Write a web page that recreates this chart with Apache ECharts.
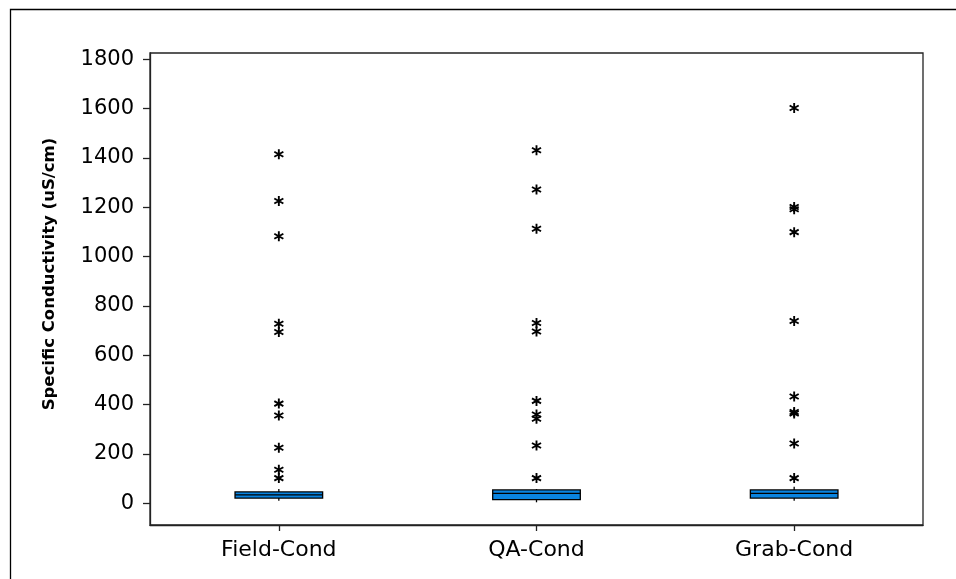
<!DOCTYPE html>
<html>
<head>
<meta charset="utf-8">
<script src="https://cdn.jsdelivr.net/npm/echarts@6/dist/echarts.min.js"></script>
<style>html,body{margin:0;padding:0;background:#fff}#c{width:956px;height:579px}</style>
</head>
<body>
<div id="c"></div>
<script>
// Categories
var categories = ['Field-Cond', 'QA-Cond', 'Grab-Cond'];
// Box stats: [lowWhisker, Q1, median, Q3, highWhisker]
var fieldBox = [10, 21, 34, 46, 58];
var qaBox = [4, 15, 40, 54, 58];
var grabBox = [10, 21, 40, 54, 67];
// Outliers
var fieldOut = [1415, 1225, 1082, 728, 694, 404, 356, 225, 136, 102];
var qaOut = [1431, 1272, 1113, 731, 696, 415, 360, 343, 234, 102];
var grabOut = [1602, 1201, 1192, 1099, 739, 433, 370, 364, 242, 102];
// Tick labels
var yTicks = [0, 200, 400, 600, 800, 1000, 1200, 1400, 1600, 1800];
var yTitle = 'Specific Conductivity (uS/cm)';

var boxes = [fieldBox, qaBox, grabBox];
var outs = [fieldOut, qaOut, grabOut];
var boxData = boxes.map(function (b, i) { return [i].concat(b); });
var outData = [];
outs.forEach(function (arr, i) { arr.forEach(function (v) { outData.push([i, v]); }); });

var star = 'path://M4.1 0L5.9 0L5.9 10L4.1 10Z M0.22 3.28L1.12 1.72L9.78 6.72L8.88 8.28Z M0.22 6.72L8.88 1.72L9.78 3.28L1.12 8.28Z';
var font = 'DejaVu Sans';

var chart = echarts.init(document.getElementById('c'), null, {renderer: 'canvas'});
chart.setOption({
  animation: false,
  backgroundColor: '#fff',
  graphic: [{
    type: 'rect', silent: true,
    shape: {x: 10.5, y: 9.5, width: 2000, height: 2000},
    style: {fill: 'none', stroke: '#000', lineWidth: 1.3}
  }, {
    type: 'text', silent: true,
    x: 50, y: 274, rotation: Math.PI / 2,
    style: {text: yTitle, fontFamily: font, fontWeight: 'bold', fontSize: 16.5, fill: '#000', align: 'center', verticalAlign: 'middle'}
  }],
  grid: {left: 150, top: 53, right: 33, bottom: 54, show: true, borderColor: '#222', borderWidth: 1.3, backgroundColor: 'transparent'},
  xAxis: {
    type: 'category', data: categories, boundaryGap: true,
    axisLine: {show: true, onZero: false, lineStyle: {color: '#222', width: 1.3}},
    axisTick: {show: true, alignWithLabel: true, length: 6, lineStyle: {color: '#222', width: 1.3}},
    axisLabel: {color: '#000', fontFamily: font, fontSize: 22, margin: 14},
    splitLine: {show: false}
  },
  yAxis: {
    type: 'value', min: -88, max: 1825,
    axisLine: {show: true, lineStyle: {color: '#222', width: 1.3}},
    axisTick: {show: true, length: 7, customValues: yTicks, lineStyle: {color: '#222', width: 1.3}},
    axisLabel: {color: '#000', fontFamily: font, fontSize: 21, margin: 16, customValues: yTicks,
      formatter: function (v) { return String(v); }},
    splitLine: {show: false}
  },
  series: [{
    type: 'custom',
    data: boxData,
    encode: {x: 0, y: [1, 2, 3, 4, 5]},
    renderItem: function (params, api) {
      var c = api.value(0);
      var pLow = api.coord([c, api.value(1)]);
      var pQ1 = api.coord([c, api.value(2)]);
      var pMed = api.coord([c, api.value(3)]);
      var pQ3 = api.coord([c, api.value(4)]);
      var pHigh = api.coord([c, api.value(5)]);
      var bw = api.size([1, 0])[0] * 0.34;
      var x0 = pQ1[0] - bw / 2;
      var ls = {stroke: '#000', lineWidth: 1.3};
      return {
        type: 'group',
        children: [
          {type: 'line', shape: {x1: pHigh[0], y1: pHigh[1], x2: pQ3[0], y2: pQ3[1]}, style: ls},
          {type: 'line', shape: {x1: pLow[0], y1: pLow[1], x2: pQ1[0], y2: pQ1[1]}, style: ls},
          {type: 'rect', shape: {x: x0, y: pQ3[1], width: bw, height: pQ1[1] - pQ3[1]},
           style: {fill: '#0a84e0', stroke: '#000', lineWidth: 1.3}},
          {type: 'line', shape: {x1: x0, y1: pMed[1], x2: x0 + bw, y2: pMed[1]}, style: ls}
        ]
      };
    },
    z: 3
  }, {
    type: 'scatter',
    data: outData,
    symbol: star,
    symbolSize: 10,
    itemStyle: {color: '#000', opacity: 1},
    z: 4
  }]
});
</script>
</body>
</html>
